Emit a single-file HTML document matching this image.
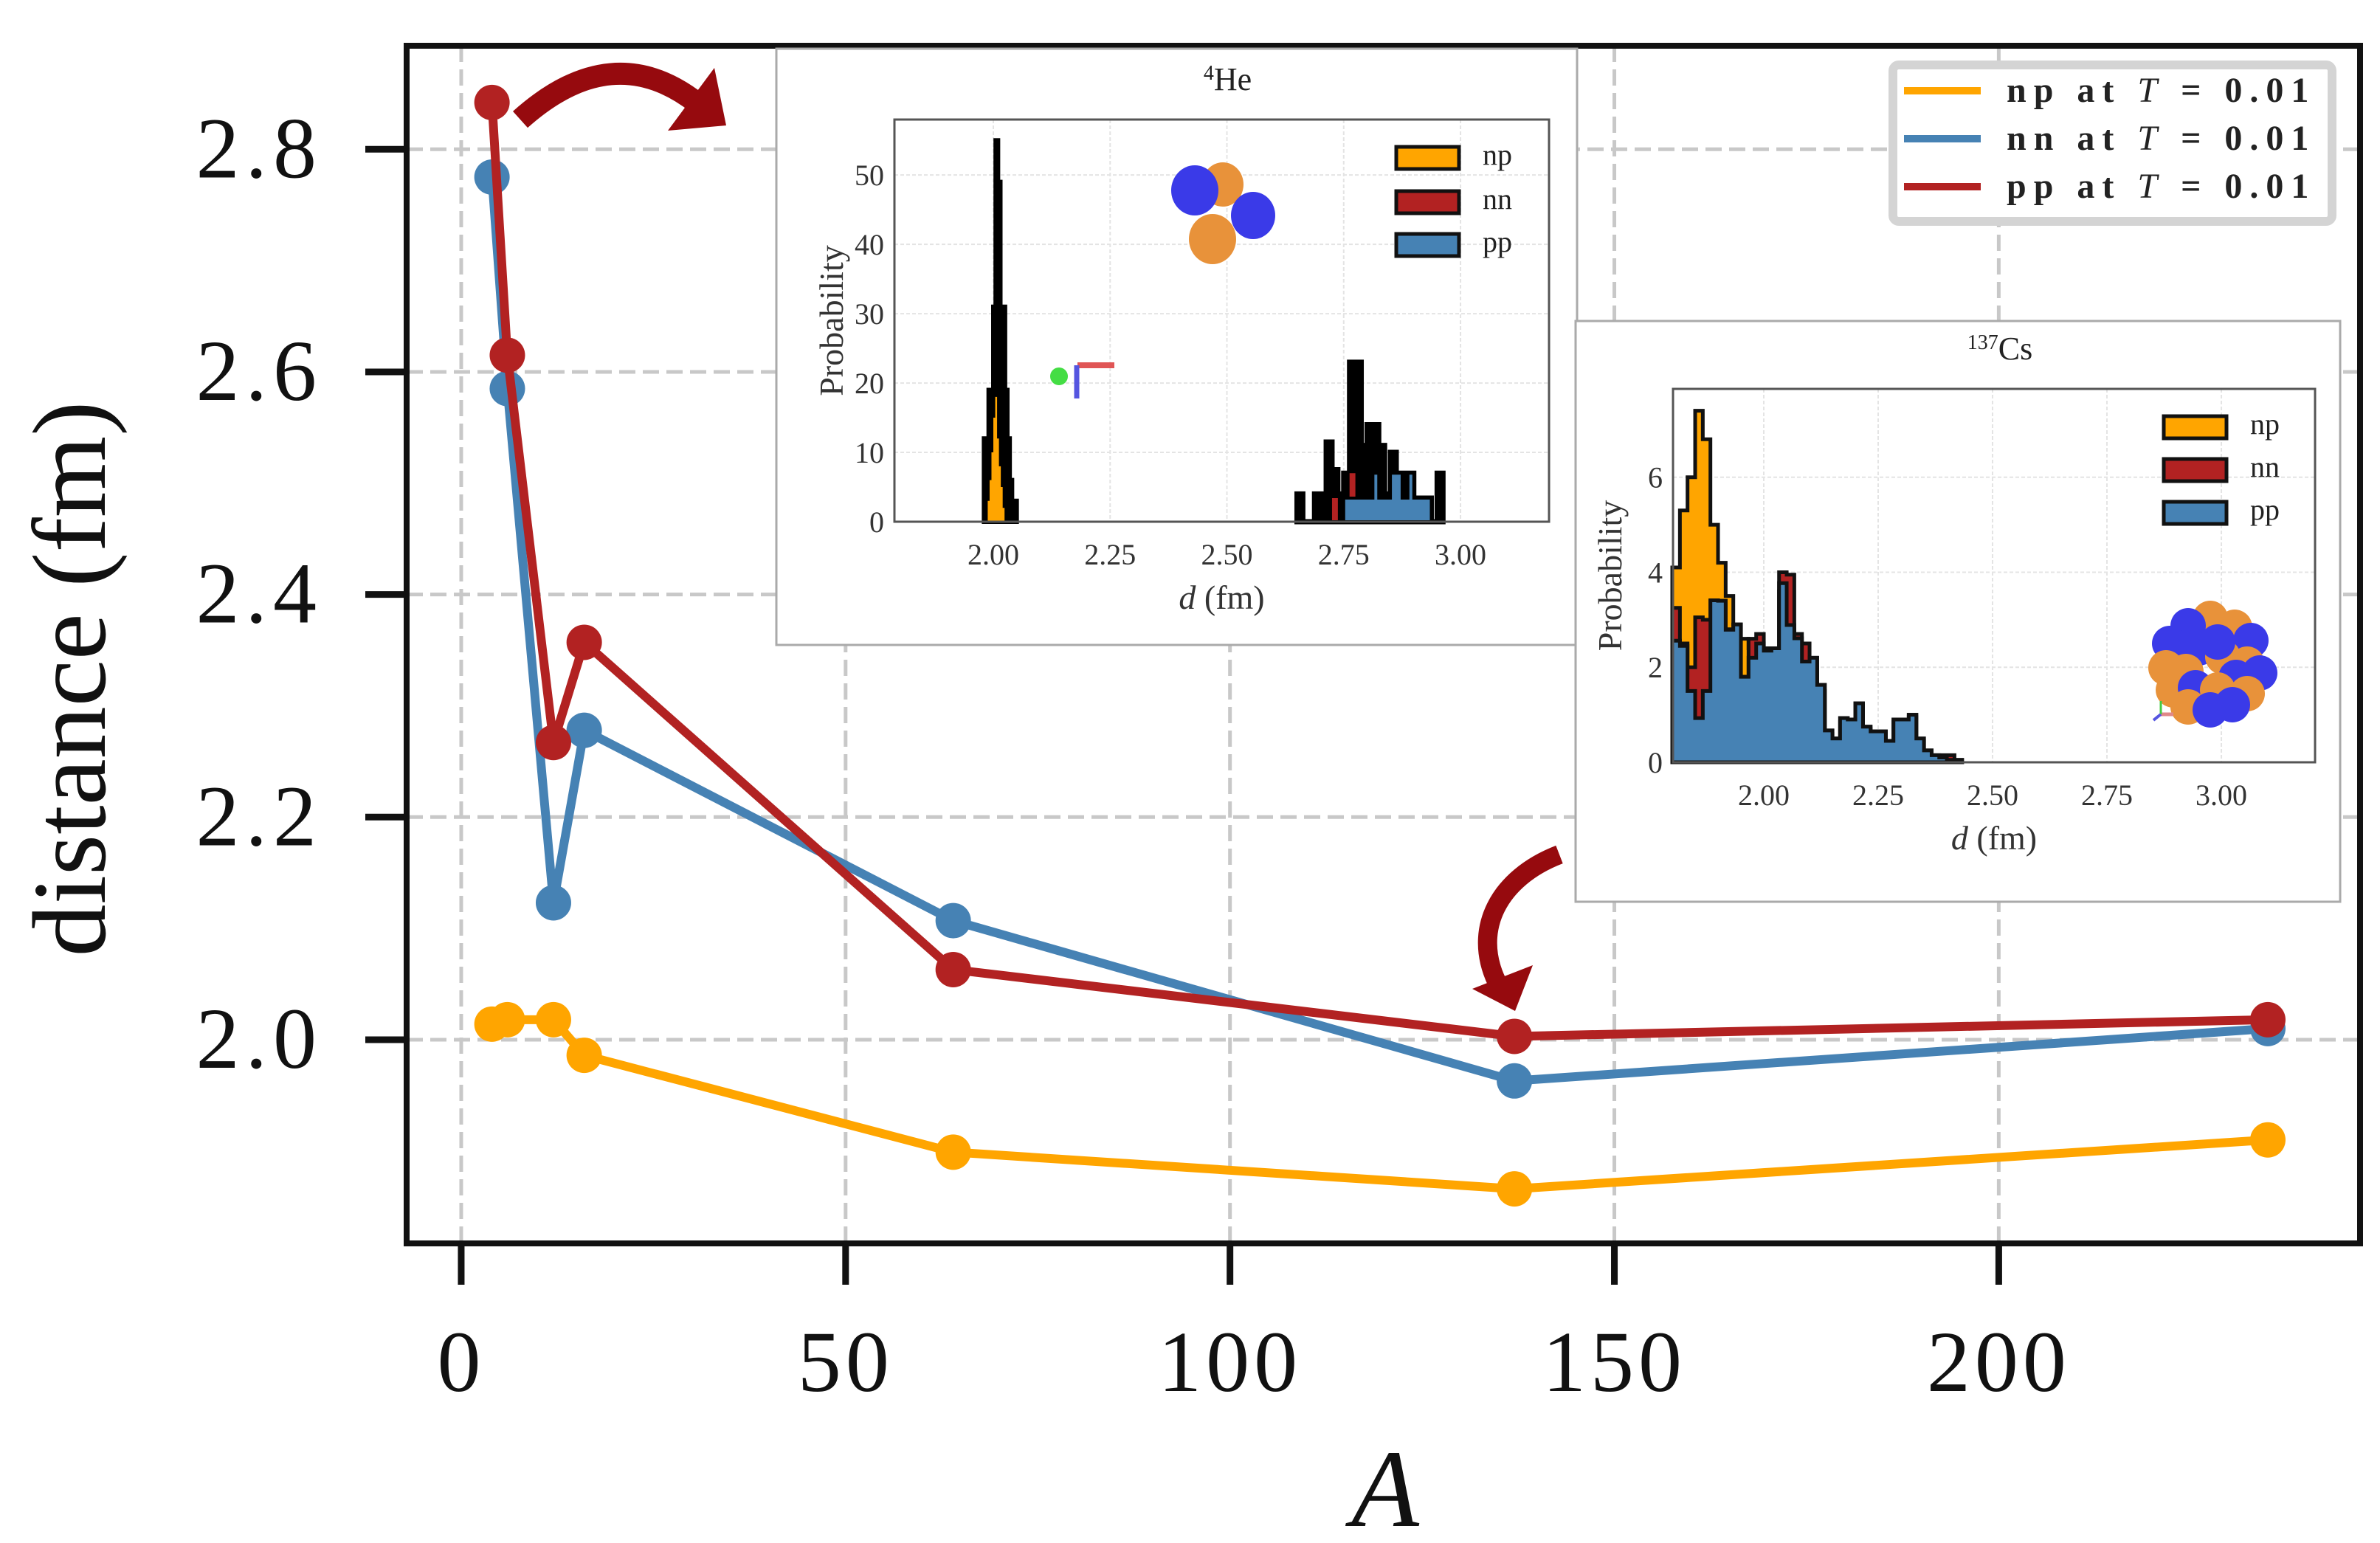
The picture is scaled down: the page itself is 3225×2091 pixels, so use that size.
<!DOCTYPE html>
<html><head><meta charset="utf-8">
<style>
html,body{margin:0;padding:0;background:#fff;}
svg{display:block;font-family:"Liberation Serif","DejaVu Serif",serif;}
</style></head>
<body>
<svg id="chart" width="3225" height="2091" viewBox="0 0 3225 2091" xmlns="http://www.w3.org/2000/svg">
<rect x="0" y="0" width="3225" height="2091" fill="#fff"/>
<g id="grid"></g>
<g id="series"></g>
<g id="axes"></g>
<g id="inset1"></g>
<g id="inset2"></g>
<g id="legend"></g>
<g id="arrows">
  <path d="M705,162 Q830,50 945,140" fill="none" stroke="#960a0e" stroke-width="30"/>
  <polygon points="968,92 984,170 905,177" fill="#960a0e"/>
  <path d="M2113,1158 C2030,1190 1995,1260 2028,1330" fill="none" stroke="#960a0e" stroke-width="26"/>
  <polygon points="1995,1340 2077,1308 2053,1370" fill="#960a0e"/>
</g>
</svg>
<script>
// ---------- main chart data ----------
const massNumbers = [4, 6, 12, 16, 64, 137, 235];
const npDist = [2.014, 2.018, 2.018, 1.986, 1.899, 1.866, 1.910];
const nnDist = [2.775, 2.585, 2.123, 2.278, 2.107, 1.963, 2.010];
const ppDist = [2.842, 2.615, 2.267, 2.357, 2.063, 2.003, 2.018];
const xTicks = [0, 50, 100, 150, 200];
const yTicks = [2.0, 2.2, 2.4, 2.6, 2.8];
const yTickLabels = ["2.0", "2.2", "2.4", "2.6", "2.8"];
const legendLabels = ["np", "nn", "pp"];

// He-4 inset data
const heTicksX = [2.00, 2.25, 2.50, 2.75, 3.00];
const heTicksY = [0, 10, 20, 30, 40, 50];
const heNpStart = 1.98;
const heNpWidth = 0.005;
const heNp = [12, 12, 19, 19, 31, 55, 49, 31, 31, 19, 12, 6, 3, 3];
const heNpInner = [0, 3, 6, 10, 15, 18, 12, 8, 5, 2, 0, 0, 0, 0];
const hePairStart = 2.65;
const hePairWidth = 0.0125;
const heNn = [4, 0, 0, 4, 4, 11.5, 7.5, 4, 7, 23, 23, 11, 14, 14, 11, 4, 10, 7, 7, 7, 3.4, 3.4, 3.4, 0, 7];
const heNnRed = [0, 0, 0, 0, 0, 0, 3.4, 0, 0, 7, 0, 0, 0, 0, 0, 0, 0, 0, 0, 0, 0, 0, 0, 0, 0];
const hePp = [0, 0, 0, 0, 0, 0, 0, 0, 3.4, 3.4, 3.4, 3.4, 3.4, 7, 3.4, 3.4, 7, 7, 3.4, 7, 3.4, 3.4, 3.4, 0, 0];

// Cs-137 inset data
const csTicksX = [2.00, 2.25, 2.50, 2.75, 3.00];
const csTicksY = [0, 2, 4, 6];
const csStart = 1.80;
const csWidth = 0.01667;
const csNp = [4.1, 5.3, 6.0, 7.4, 6.8, 5.0, 4.2, 3.5, 2.9, 2.6, 2.4, 2.5, 2.3, 2.3, 3.6, 2.8, 2.5, 2.0, 2.0, 1.5, 0.6, 0.45, 0.85, 0.85, 1.2, 0.7, 0.6, 0.6, 0.4, 0.85, 0.85, 0.95, 0.45, 0.2, 0.1, 0.05, 0.05, 0];
const csNn = [3.25, 2.5, 2.0, 3.05, 3.0, 3.4, 3.4, 2.8, 2.9, 1.8, 2.6, 2.7, 2.4, 2.4, 4.0, 3.95, 2.7, 2.5, 2.2, 1.63, 0.67, 0.5, 0.93, 0.9, 1.24, 0.75, 0.65, 0.65, 0.45, 0.9, 0.9, 1.0, 0.5, 0.25, 0.15, 0.15, 0.15, 0.05];
const csPp = [2.56, 2.45, 1.5, 0.93, 1.5, 3.41, 3.4, 2.79, 2.9, 1.8, 2.2, 2.5, 2.35, 2.4, 3.77, 2.89, 2.61, 2.12, 2.2, 1.63, 0.67, 0.5, 0.93, 0.9, 1.24, 0.75, 0.65, 0.65, 0.45, 0.9, 0.9, 1.0, 0.5, 0.25, 0.15, 0.1, 0.05, 0.05];

const NS = "http://www.w3.org/2000/svg";
const ORANGE = "#FFA500", BLUE = "#4682B4", RED = "#B22222";
function mk(parent, tag, attrs, text) {
  const e = document.createElementNS(NS, tag);
  for (const k in attrs) e.setAttribute(k, attrs[k]);
  if (text !== undefined) e.textContent = text;
  parent.appendChild(e);
  return e;
}

const AX = {l: 551, r: 3198, t: 62, b: 1685};
const xMin = -7.1, xMax = 247, yMin = 1.817, yMax = 2.893;
const sx = v => AX.l + (v - xMin) / (xMax - xMin) * (AX.r - AX.l);
const sy = v => AX.b - (v - yMin) / (yMax - yMin) * (AX.b - AX.t);

const grid = document.getElementById('grid');
xTicks.forEach(t => {
  const l = mk(grid, 'line', {x1: sx(t), x2: sx(t), y1: AX.t, y2: AX.b, stroke: '#c8c8c8', 'stroke-width': 5, 'stroke-dasharray': '22,10'});
  
  
});
yTicks.forEach(t => {
  const l = mk(grid, 'line', {x1: AX.l, x2: AX.r, y1: sy(t), y2: sy(t), stroke: '#c8c8c8', 'stroke-width': 5, 'stroke-dasharray': '22,10'});
  
  
});

const seriesG = document.getElementById('series');
const seriesList = [[npDist, ORANGE, 'np'], [nnDist, BLUE, 'nn'], [ppDist, RED, 'pp']];
seriesList.forEach(([vals, col, nm]) => {
  const pts = vals.map((v, i) => sx(massNumbers[i]) + ',' + sy(v)).join(' ');
  const pl = mk(seriesG, 'polyline', {points: pts, fill: 'none', stroke: col, 'stroke-width': 12, 'stroke-linejoin': 'round'});
  
  
  vals.forEach((v, i) => {
    const c = mk(seriesG, 'circle', {cx: sx(massNumbers[i]), cy: sy(v), r: 24, fill: col});
    
    
  });
});

const axes = document.getElementById('axes');
const frame = mk(axes, 'rect', {x: AX.l, y: AX.t, width: AX.r - AX.l, height: AX.b - AX.t, fill: 'none', stroke: '#111', 'stroke-width': 8});


xTicks.forEach(t => {
  const tk = mk(axes, 'line', {x1: sx(t), x2: sx(t), y1: AX.b, y2: AX.b + 56, stroke: '#111', 'stroke-width': 9});
  
  
  const lb = mk(axes, 'text', {x: sx(t), y: 1885, 'text-anchor': 'middle', 'font-size': 118, 'letter-spacing': 6, fill: '#111'}, String(t));
  
  
});
yTicks.forEach((t, i) => {
  const tk = mk(axes, 'line', {x1: AX.l - 56, x2: AX.l, y1: sy(t), y2: sy(t), stroke: '#111', 'stroke-width': 9});
  
  
  const lb = mk(axes, 'text', {x: 437, y: sy(t) + 38, 'text-anchor': 'end', 'font-size': 118, 'letter-spacing': 8, fill: '#111'}, yTickLabels[i]);
  
  
});
const xt = mk(axes, 'text', {x: 1877, y: 2068, 'text-anchor': 'middle', 'font-size': 150, 'font-style': 'italic', fill: '#111'}, 'A');


const yt = mk(axes, 'text', {x: 0, y: 0, 'text-anchor': 'middle', 'font-size': 142, fill: '#111', transform: 'translate(142,920) rotate(-90)'}, 'distance (fm)');



function stepPath(start, width, vals, fx, fy) {
  let d = 'M' + fx(start) + ',' + fy(0);
  vals.forEach((v, i) => {
    d += ' L' + fx(start + i * width) + ',' + fy(v) + ' L' + fx(start + (i + 1) * width) + ',' + fy(v);
  });
  d += ' L' + fx(start + vals.length * width) + ',' + fy(0) + ' Z';
  return d;
}
function buildInset(g, box, ax, xr, yr, tickX, tickY, title, titleSup, legendBoxes, hists, fs) {
  const outer = mk(g, 'rect', {x: box.x, y: box.y, width: box.w, height: box.h, fill: '#fff', stroke: '#aaa', 'stroke-width': 3});
  
  
  const fx = v => ax.l + (v - xr[0]) / (xr[1] - xr[0]) * (ax.r - ax.l);
  const fy = v => ax.b - (v - yr[0]) / (yr[1] - yr[0]) * (ax.b - ax.t);
  tickX.forEach(t => {
    const l = mk(g, 'line', {x1: fx(t), x2: fx(t), y1: ax.t, y2: ax.b, stroke: '#e4e4e4', 'stroke-width': 2, 'stroke-dasharray': '5,3'});
    
    
    const lb = mk(g, 'text', {x: fx(t), y: ax.b + 58, 'text-anchor': 'middle', 'font-size': fs, fill: '#333'}, t.toFixed(2));
    
    
  });
  tickY.forEach(t => {
    const l = mk(g, 'line', {x1: ax.l, x2: ax.r, y1: fy(t), y2: fy(t), stroke: '#e4e4e4', 'stroke-width': 2, 'stroke-dasharray': '5,3'});
    
    
    const lb = mk(g, 'text', {x: ax.l - 14, y: fy(t) + 14, 'text-anchor': 'end', 'font-size': fs, fill: '#333'}, String(t));
    
    
  });
  hists.forEach(h => {
    const p = mk(g, 'path', {d: stepPath(h.start, h.width, h.vals, fx, fy), fill: h.col, stroke: h.stroke, 'stroke-width': h.sw, 'stroke-linejoin': 'miter'});
    
    
  });
  const fr = mk(g, 'rect', {x: ax.l, y: ax.t, width: ax.r - ax.l, height: ax.b - ax.t, fill: 'none', stroke: '#555', 'stroke-width': 3});
  
  
  const tt = mk(g, 'text', {x: (ax.l + ax.r) / 2 + 8, y: ax.t - 40, 'text-anchor': 'middle', 'font-size': fs + 4, fill: '#222'});
  
  
  mk(tt, 'tspan', {'font-size': fs * 0.7, dy: -14}, titleSup);
  mk(tt, 'tspan', {dy: 14}, title);
  const xl = mk(g, 'text', {x: (ax.l + ax.r) / 2, y: ax.b + 118, 'text-anchor': 'middle', 'font-size': fs + 6, fill: '#333'});
  
  
  mk(xl, 'tspan', {'font-style': 'italic'}, 'd');
  mk(xl, 'tspan', {}, ' (fm)');
  const yl = mk(g, 'text', {x: 0, y: 0, 'text-anchor': 'middle', 'font-size': fs + 6, fill: '#333', transform: 'translate(' + (ax.l - 70) + ',' + ((ax.t + ax.b) / 2) + ') rotate(-90)'}, 'Probability');
  
  
  const cols = [ORANGE, RED, BLUE];
  legendBoxes.ys.forEach((y, i) => {
    const r = mk(g, 'rect', {x: legendBoxes.x, y: y, width: legendBoxes.w, height: legendBoxes.h, fill: cols[i], stroke: '#111', 'stroke-width': 5});
    
    
    const t = mk(g, 'text', {x: legendBoxes.x + legendBoxes.w + 32, y: y + legendBoxes.h * 0.8, 'font-size': fs, fill: '#222'}, legendLabels[i]);
    
    
  });
}

const in1 = document.getElementById('inset1');
buildInset(in1, {x: 1052, y: 66, w: 1085, h: 808}, {l: 1212, r: 2099, t: 162, b: 707},
  [1.7883, 3.1895], [0, 58], heTicksX, heTicksY, 'He', '4',
  {x: 1892, w: 85, h: 30, ys: [199, 259, 317]},
  [
    {name: 'he-np-outline', start: heNpStart, width: heNpWidth, vals: heNp, col: '#000', stroke: '#000', sw: 6},
    {name: 'he-np-hist', start: heNpStart + 0.004, width: 0.004, vals: heNpInner, col: ORANGE, stroke: 'none', sw: 0},
    {name: 'he-nn-outline', start: hePairStart, width: hePairWidth, vals: heNn, col: '#000', stroke: '#000', sw: 7},
    {name: 'he-nn-hist', start: hePairStart, width: hePairWidth, vals: heNnRed, col: RED, stroke: 'none', sw: 0},
    {name: 'he-pp-hist', start: hePairStart, width: hePairWidth, vals: hePp, col: BLUE, stroke: '#000', sw: 4}
  ], 40);
[[1657, 250, 28, 30, '#e8923a'], [1619, 258, 32, 34, '#3a3ae8'], [1698, 292, 30, 32, '#3a3ae8'], [1643, 324, 32, 34, '#e8923a']].forEach(s => {
  const c = mk(in1, 'ellipse', {cx: s[0], cy: s[1], rx: s[2], ry: s[3], fill: s[4]});
  
  
});
mk(in1, 'line', {x1: 1460, y1: 495, x2: 1510, y2: 495, stroke: '#e05555', 'stroke-width': 8,  });
mk(in1, 'line', {x1: 1459, y1: 495, x2: 1459, y2: 540, stroke: '#5555e0', 'stroke-width': 7,  });
mk(in1, 'circle', {cx: 1435, cy: 510, r: 12, fill: '#44dd44',  });

const in2 = document.getElementById('inset2');
buildInset(in2, {x: 2135, y: 435, w: 1036, h: 787}, {l: 2267, r: 3137, t: 527, b: 1033},
  [1.8016, 3.2048], [0, 7.86], csTicksX, csTicksY, 'Cs', '137',
  {x: 2932, w: 85, h: 30, ys: [564, 622, 680]},
  [
    {name: 'cs-np-hist', start: csStart, width: csWidth, vals: csNp, col: ORANGE, stroke: '#111', sw: 5},
    {name: 'cs-nn-hist', start: csStart, width: csWidth, vals: csNn, col: RED, stroke: '#111', sw: 5},
    {name: 'cs-pp-hist', start: csStart, width: csWidth, vals: csPp, col: BLUE, stroke: '#111', sw: 5}
  ], 40);
const clusterBalls = [
 [2995, 838, '#e8923a'], [2965, 848, '#3a3ae8'], [3028, 850, '#e8923a'], [3050, 868, '#3a3ae8'],
 [2940, 872, '#3a3ae8'], [2980, 878, '#3a3ae8'], [3012, 890, '#e8923a'], [3045, 900, '#e8923a'],
 [2935, 905, '#e8923a'], [2962, 910, '#e8923a'], [3030, 918, '#3a3ae8'], [3062, 912, '#3a3ae8'],
 [2945, 935, '#e8923a'], [2975, 932, '#3a3ae8'], [3005, 935, '#e8923a'], [3045, 940, '#e8923a'],
 [2965, 958, '#e8923a'], [2995, 962, '#3a3ae8'], [3025, 955, '#3a3ae8'], [3005, 870, '#3a3ae8']];
clusterBalls.forEach(b => {
  const c = mk(in2, 'circle', {cx: b[0], cy: b[1], r: 24, fill: b[2]});
  
  
});
mk(in2, 'line', {x1: 2928, y1: 968, x2: 2945, y2: 968, stroke: '#e08888', 'stroke-width': 5,  });
mk(in2, 'line', {x1: 2928, y1: 968, x2: 2928, y2: 950, stroke: '#44cc44', 'stroke-width': 3,  });
mk(in2, 'line', {x1: 2928, y1: 968, x2: 2918, y2: 976, stroke: '#5555e0', 'stroke-width': 4,  });

const lg = document.getElementById('legend');
const lbox = mk(lg, 'rect', {x: 2565, y: 88, width: 595, height: 212, rx: 8, fill: '#fff', stroke: '#d4d4d4', 'stroke-width': 12});


[ORANGE, BLUE, RED].forEach((col, i) => {
  const y = 123 + i * 65;
  const ln = mk(lg, 'line', {x1: 2580, x2: 2684, y1: y, y2: y, stroke: col, 'stroke-width': 10});
  
  
  const tx = mk(lg, 'text', {x: 2719, y: y + 15, 'font-size': 48, 'font-weight': 'bold', 'letter-spacing': 10, fill: '#222'});
  
  
  mk(tx, 'tspan', {}, ['np', 'nn', 'pp'][i] + ' at ');
  mk(tx, 'tspan', {'font-style': 'italic', 'font-weight': 'normal'}, 'T');
  mk(tx, 'tspan', {}, ' = 0.01');
});
</script>
</body></html>
